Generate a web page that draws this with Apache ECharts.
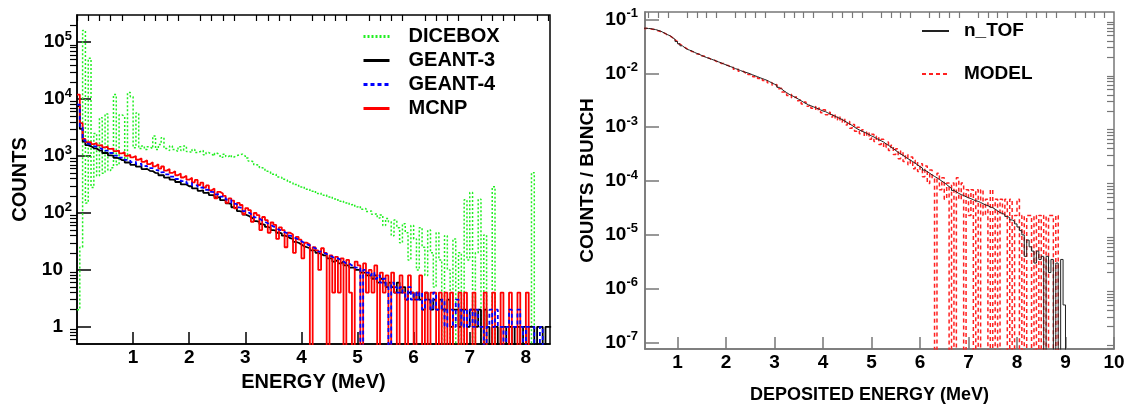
<!DOCTYPE html>
<html>
<head>
<meta charset="utf-8">
<script src="https://cdn.jsdelivr.net/npm/echarts/dist/echarts.min.js"></script>
<style>
html,body{margin:0;padding:0;background:#fff;}
#c{width:1128px;height:409px;}
</style>
</head>
<body>
<div id="c"></div>
<script>
// ---------------- DATA ----------------
const binW = 0.05;              // MeV, histogram bin width
const leftStart = 0.0;          // first bin low edge (left panel)
const rightStart = 0.30;        // first bin low edge (right panel)

const leftXLabels = [1, 2, 3, 4, 5, 6, 7, 8];
const leftYLabels = [1, 10, 100, 1000, 10000, 100000];
const rightXLabels = [1, 2, 3, 4, 5, 6, 7, 8, 9, 10];
const rightYLabels = [1e-7, 1e-6, 1e-5, 1e-4, 1e-3, 1e-2, 1e-1];

const dicebox = [2,25,160000,150,52000,280,2500,450,4700,500,
5500,560,620,12000,700,5300,5000,900,13000,11000,
1400,5700,1350,1500,1300,1450,1350,2250,1300,1600,
2100,1350,1250,1500,1300,1200,1450,1250,1500,1200,
1150,1300,1150,1200,1250,1050,1150,1080,1000,1120,
1050,950,1080,980,1050,960,1020,1050,1080,1000,
920,820,790,700,690,620,610,540,530,480,
480,430,425,390,380,350,345,315,315,285,
290,262,262,240,245,220,224,205,208,190,
193,176,178,160,163,150,153,140,142,128,
132,116,120,106,108,95,97,82,92,60,
80,70,40,75,55,30,65,45,15,60,
35,10,55,25,8,50,20,5,45,15,
0,40,10,0,35,0,20,0,170,15,
228,0,20,175,0,41,0,0,288,0,
0,0,0,0,0,0,0,0,0,0,
0,0,510,0,0,0,0,0,0];

const geant3 = [7500,3000,1800,1550,1480,1380,1350,1260,1240,1130,
1130,1030,1020,930,920,850,845,770,775,700,
705,650,655,590,595,550,545,505,500,460,
462,418,420,385,380,350,352,318,318,295,
296,270,270,245,250,226,227,206,205,188,
190,168,168,148,145,126,121,108,105,94,
90,84,79,72,70,64,62,57,55,50,
49,45,44,40,39,36,35,31,30,28,
26,25,24,22,22,20,19,18,18,16,
16,14,15,13,14,12,12,11,11,10,
10,9,9,8,8,7,8,6,7,6,
5,6,5,4,6,4,5,3,4,4,
3,4,3,2,4,3,2,3,2,3,
2,2,3,1,2,2,1,2,2,1,
2,2,1,2,0,2,1,0,1,1,
0,1,1,0,1,0,1,1,0,1,
0,1,1,0,1,1,0,1,1];

const geant4 = [8000,3200,1900,1650,1600,1480,1470,1370,1350,1240,
1240,1130,1130,1020,1020,935,935,855,855,785,
795,725,735,665,670,615,612,565,567,518,
520,475,475,435,435,395,398,362,362,332,
336,305,306,278,280,256,255,234,232,212,
214,193,191,171,168,146,143,125,122,108,
104,96,92,84,80,74,70,66,62,58,
55,51,49,46,44,40,39,36,34,32,
30,28,27,25,24,23,21,20,19,18,
17,16,16,15,14,13,13,12,12,11,
11,0,10,9,8,9,7,8,6,7,
5,0,6,5,4,5,4,3,5,3,
4,3,4,2,3,3,2,4,2,2,
3,1,2,2,1,3,2,1,2,1,
2,1,2,1,1,0,1,2,1,2,
1,1,0,1,2,1,1,2,1,0,
1,1,1,0,0,1,0,0,0];

const mcnp = [12000,3800,2000,1750,1760,1620,1680,1540,1560,1420,
1460,1340,1350,1220,1250,1110,1170,1010,1050,950,
1000,860,910,790,840,720,780,660,715,600,
655,555,590,505,540,460,495,420,450,385,
415,345,380,310,340,280,305,250,270,180,
235,220,200,150,180,165,120,150,138,95,
122,112,70,100,92,50,85,75,45,68,
62,35,56,50,25,45,42,20,38,34,
16,30,28,0,25,22,10,24,20,0,
18,4,17,4,16,0,15,4,0,14,
12,0,13,4,10,4,12,0,9,4,
8,0,9,4,0,8,4,0,8,4,
0,4,8,0,4,0,4,4,0,4,
0,4,0,4,0,0,4,0,4,0,
0,4,0,0,0,4,0,0,4,0,
0,4,0,0,4,0,0,4,0,0,
4,0,0,0,0,0,0,0,0];

const ntof = [6.9e-2,6.8e-2,6.8e-2,6.6e-2,6.5e-2,6.3e-2,6.1e-2,5.8e-2,5.5e-2,5.2e-2,
5.0e-2,4.6e-2,4.3e-2,3.9e-2,3.55e-2,3.25e-2,3.0e-2,2.8e-2,2.7e-2,2.6e-2,
2.45e-2,2.35e-2,2.25e-2,2.15e-2,2.05e-2,1.97e-2,1.9e-2,1.83e-2,1.77e-2,1.7e-2,
1.63e-2,1.57e-2,1.5e-2,1.44e-2,1.38e-2,1.33e-2,1.28e-2,1.22e-2,1.18e-2,1.13e-2,
1.08e-2,1.05e-2,1.02e-2,9.8e-3,9.4e-3,9.0e-3,8.7e-3,8.3e-3,8.0e-3,7.7e-3,
7.4e-3,7.0e-3,6.6e-3,6.3e-3,6.0e-3,5.5e-3,5.1e-3,4.7e-3,4.4e-3,4.1e-3,
3.9e-3,3.7e-3,3.5e-3,3.3e-3,3.1e-3,2.9e-3,2.75e-3,2.6e-3,2.5e-3,2.4e-3,
2.3e-3,2.2e-3,2.1e-3,2.0e-3,1.95e-3,1.85e-3,1.75e-3,1.68e-3,1.6e-3,1.52e-3,
1.45e-3,1.38e-3,1.3e-3,1.22e-3,1.15e-3,1.08e-3,1.0e-3,9.4e-4,8.9e-4,8.5e-4,
8.1e-4,7.7e-4,7.3e-4,6.9e-4,6.6e-4,6.2e-4,5.9e-4,5.6e-4,5.3e-4,4.9e-4,
4.6e-4,4.3e-4,4.0e-4,3.7e-4,3.4e-4,3.2e-4,3.0e-4,2.8e-4,2.6e-4,2.45e-4,
2.3e-4,2.15e-4,2.0e-4,1.85e-4,1.75e-4,1.6e-4,1.5e-4,1.4e-4,1.3e-4,1.22e-4,
1.15e-4,1.07e-4,1.0e-4,9.3e-5,8.6e-5,7.9e-5,7.3e-5,6.7e-5,6.3e-5,5.9e-5,
5.6e-5,5.4e-5,5.1e-5,4.9e-5,4.7e-5,4.5e-5,4.3e-5,4.2e-5,4.0e-5,3.8e-5,
3.6e-5,3.5e-5,3.3e-5,3.2e-5,3.0e-5,2.8e-5,2.6e-5,2.5e-5,2.4e-5,2.2e-5,
2.1e-5,1.9e-5,1.8e-5,1.6e-5,1.4e-5,1.2e-5,1.0e-5,4e-6,8e-6,6e-6,
5e-6,3e-6,5e-6,3.5e-6,4e-6,0,4e-6,2e-6,3.5e-6,0,
3e-6,0,3.5e-6,5e-7,0];

const model = [6.8e-2,6.9e-2,6.7e-2,6.6e-2,6.4e-2,6.2e-2,6.0e-2,5.7e-2,5.5e-2,5.1e-2,
4.9e-2,4.6e-2,4.2e-2,3.9e-2,3.5e-2,3.25e-2,3.05e-2,2.85e-2,2.7e-2,2.55e-2,
2.5e-2,2.3e-2,2.3e-2,2.1e-2,2.1e-2,1.93e-2,1.93e-2,1.8e-2,1.8e-2,1.67e-2,
1.66e-2,1.53e-2,1.53e-2,1.41e-2,1.4e-2,1.3e-2,1.3e-2,1.19e-2,1.2e-2,1.1e-2,
1.1e-2,1.02e-2,1.04e-2,9.5e-3,9.6e-3,8.7e-3,8.9e-3,8.0e-3,8.2e-3,7.4e-3,
7.6e-3,6.7e-3,6.8e-3,6.0e-3,6.2e-3,5.2e-3,5.3e-3,4.5e-3,4.6e-3,3.9e-3,
4.1e-3,3.5e-3,3.7e-3,3.1e-3,3.3e-3,2.7e-3,2.95e-3,2.45e-3,2.65e-3,2.25e-3,
2.45e-3,2.05e-3,2.25e-3,1.85e-3,2.1e-3,1.7e-3,1.9e-3,1.55e-3,1.75e-3,1.38e-3,
1.6e-3,1.25e-3,1.45e-3,1.1e-3,1.28e-3,9.6e-4,1.12e-3,8.4e-4,1.0e-3,7.6e-4,
9.0e-4,6.8e-4,8.2e-4,6.0e-4,7.4e-4,5.4e-4,6.8e-4,4.8e-4,6.0e-4,4.2e-4,
5.3e-4,3.7e-4,4.6e-4,3.1e-4,4.0e-4,2.6e-4,3.6e-4,2.3e-4,3.1e-4,2.0e-4,
2.8e-4,1.7e-4,2.4e-4,1.5e-4,2.1e-4,1.2e-4,1.9e-4,9.0e-5,1.6e-4,1.1e-4,
0,1.4e-4,6.9e-5,1.15e-4,4.6e-5,9.2e-5,0,9.2e-5,0,1.15e-4,
4.6e-5,9.2e-5,0,6.9e-5,2.3e-5,6.9e-5,0,6.9e-5,0,6.9e-5,
2.3e-5,4.6e-5,0,6.9e-5,0,4.6e-5,0,4.6e-5,2.3e-5,4.6e-5,
0,4.6e-5,0,2.3e-5,4.6e-5,0,2.3e-5,0,2.3e-5,2.3e-5,
0,2.3e-5,0,2.3e-5,0,2.3e-5,0,2.3e-5,2.3e-5,0,
2.3e-5,0,0,0,0];

// ---------------- HELPERS ----------------
const FONT = "'Liberation Sans', Arial, Helvetica, sans-serif";
function histo(start, vals, floor) {
  const pts = vals.map((v, i) => [+(start + i * binW).toFixed(4), v > 0 ? v : floor]);
  const last = vals[vals.length - 1];
  pts.push([+(start + vals.length * binW).toFixed(4), last > 0 ? last : floor]);
  return pts;
}
function logMinors(lo, hi) {
  const out = [];
  for (let e = Math.floor(Math.log10(lo)) - 1; e <= Math.ceil(Math.log10(hi)); e++) {
    for (let k = 2; k <= 9; k++) {
      const v = k * Math.pow(10, e);
      if (v > lo && v < hi) out.push(v);
    }
  }
  return out;
}
function linMinors(lo, hi, step, majors) {
  const out = [];
  for (let i = Math.ceil(lo / step - 1e-9); i * step <= hi + 1e-9; i++) {
    const v = +(i * step).toFixed(4);
    if (v >= lo && v <= hi && majors.indexOf(v) < 0) out.push(v);
  }
  return out;
}
const rich = {
  b: {fontSize: 19, fontWeight: 'bold', fontFamily: FONT, color: '#000'},
  s: {fontSize: 13, fontWeight: 'bold', fontFamily: FONT, color: '#000', padding: [0, 0, 12, 0]},
  p: {width: 9}
};
function powLabel(v) {
  const e = Math.round(Math.log10(v));
  if (e === 0) return '{b|1}{p|}';
  if (e === 1) return '{b|10}{p|}';
  return '{b|10}{s|' + e + '}';
}

const LX = {min: 0, max: 8.43};
const LY = {min: 0.5, max: 3e5};
const RX = {min: 0.33, max: 10};
const RY = {min: 7.6e-8, max: 0.138};

const chart = echarts.init(document.getElementById('c'), null, {renderer: 'canvas'});

function xAxes(gi, range, labels, color, minorStep) {
  return [
    {gridIndex: gi, type: 'value', min: range.min, max: range.max,
     axisLine: {show: true, lineStyle: {color: color, width: 1.5}},
     axisTick: {show: true, inside: true, length: 12, customValues: labels, lineStyle: {color: color, width: 1.5}},
     axisLabel: {show: true, customValues: labels, margin: 4, fontSize: 19, fontWeight: 'bold', fontFamily: FONT, color: '#000'},
     splitLine: {show: false}},
    {gridIndex: gi, type: 'value', min: range.min, max: range.max,
     axisLine: {show: false},
     axisTick: {show: true, inside: true, length: 6, customValues: linMinors(range.min, range.max, minorStep, labels), lineStyle: {color: color, width: 1.2}},
     axisLabel: {show: false}, splitLine: {show: false}}
  ];
}
function yAxes(gi, range, labels, color, margin) {
  return [
    {gridIndex: gi, type: 'log', logBase: 10, min: range.min, max: range.max,
     axisLine: {show: true, lineStyle: {color: color, width: 1.5}},
     axisTick: {show: true, inside: true, length: 14, customValues: labels, lineStyle: {color: color, width: 1.5}},
     axisLabel: {show: true, customValues: labels, margin: margin, formatter: powLabel, rich: rich},
     splitLine: {show: false}},
    {gridIndex: gi, type: 'log', logBase: 10, min: range.min, max: range.max,
     axisLine: {show: false},
     axisTick: {show: true, inside: true, length: 7, customValues: logMinors(range.min, range.max), lineStyle: {color: color, width: 1.2}},
     axisLabel: {show: false}, splitLine: {show: false}}
  ];
}

const xa = xAxes(0, LX, leftXLabels, '#000', 0.2).concat(xAxes(1, RX, rightXLabels, '#777', 0.2));
const ya = yAxes(0, LY, leftYLabels, '#000', 5).concat(yAxes(1, RY, rightYLabels, '#777', 7));
const nameStyle = {fontSize: 20, fontWeight: 'bold', fontFamily: FONT, color: '#000'};
xa[0].name = 'ENERGY (MeV)'; xa[0].nameLocation = 'middle'; xa[0].nameGap = 28; xa[0].nameTextStyle = nameStyle;
ya[0].name = 'COUNTS'; ya[0].nameLocation = 'middle'; ya[0].nameGap = 47; ya[0].nameTextStyle = nameStyle;
xa[2].name = 'DEPOSITED ENERGY (MeV)'; xa[2].nameLocation = 'middle'; xa[2].nameGap = 37;
xa[2].nameTextStyle = Object.assign({}, nameStyle, {fontSize: 18, padding: [0, 20, 0, 0]});
ya[2].name = 'COUNTS / BUNCH'; ya[2].nameLocation = 'middle'; ya[2].nameGap = 48;
ya[2].nameTextStyle = Object.assign({}, nameStyle, {fontSize: 19});

function hseries(name, xi, yi, data, color, type, width, z) {
  return {name: name, type: 'line', step: 'end', xAxisIndex: xi, yAxisIndex: yi,
          data: data, showSymbol: false, symbol: 'none', clip: true, z: z,
          lineStyle: {color: color, width: width, type: type}, itemStyle: {color: color},
          emphasis: {disabled: true}, silent: true};
}

const option = {
  animation: false,
  backgroundColor: '#fff',
  grid: [
    {left: 77, top: 15, width: 473, height: 329, show: true, borderColor: '#000', borderWidth: 1.5, backgroundColor: 'transparent'},
    {left: 645, top: 12, width: 469, height: 344, show: true, borderColor: '#777', borderWidth: 1.5, backgroundColor: 'transparent'}
  ],
  xAxis: xa,
  yAxis: ya,
  legend: [
    {data: ['DICEBOX', 'GEANT-3', 'GEANT-4', 'MCNP'], orient: 'vertical', left: 362, top: 25, padding: 0,
     itemWidth: 26, itemHeight: 12, itemGap: 1, selectedMode: false,
     lineStyle: {width: 3}, itemStyle: {opacity: 0, borderWidth: 0},
     textStyle: {fontSize: 20, fontWeight: 'bold', fontFamily: FONT, color: '#000', lineHeight: 21, padding: [2, 0, 0, 14]}},
    {data: ['n_TOF', 'MODEL'], orient: 'vertical', left: 921, top: 19, padding: 0,
     itemWidth: 27, itemHeight: 12, itemGap: 19, selectedMode: false,
     lineStyle: {width: 2}, itemStyle: {opacity: 0, borderWidth: 0},
     textStyle: {fontSize: 19, fontWeight: 'bold', fontFamily: FONT, color: '#000', lineHeight: 22, padding: [2, 0, 0, 10]}}
  ],
  series: [
    hseries('DICEBOX', 0, 0, histo(leftStart, dicebox, 0.1), '#22ee22', [2, 2], 1.5, 2),
    hseries('GEANT-3', 0, 0, histo(leftStart, geant3, 0.1), '#000000', 'solid', 1.8, 3),
    hseries('MCNP', 0, 0, histo(leftStart, mcnp, 0.1), '#ff0000', 'solid', 1.8, 4),
    hseries('GEANT-4', 0, 0, histo(leftStart, geant4, 0.1), '#0000ff', [4, 3], 1.8, 5),
    hseries('MODEL', 2, 2, histo(rightStart, model, 1e-8), '#ff2020', [4, 3], 1.5, 3),
    hseries('n_TOF', 2, 2, histo(rightStart, ntof, 1e-8), '#222222', 'solid', 1, 4)
  ]
};
chart.setOption(option);
</script>
</body>
</html>
